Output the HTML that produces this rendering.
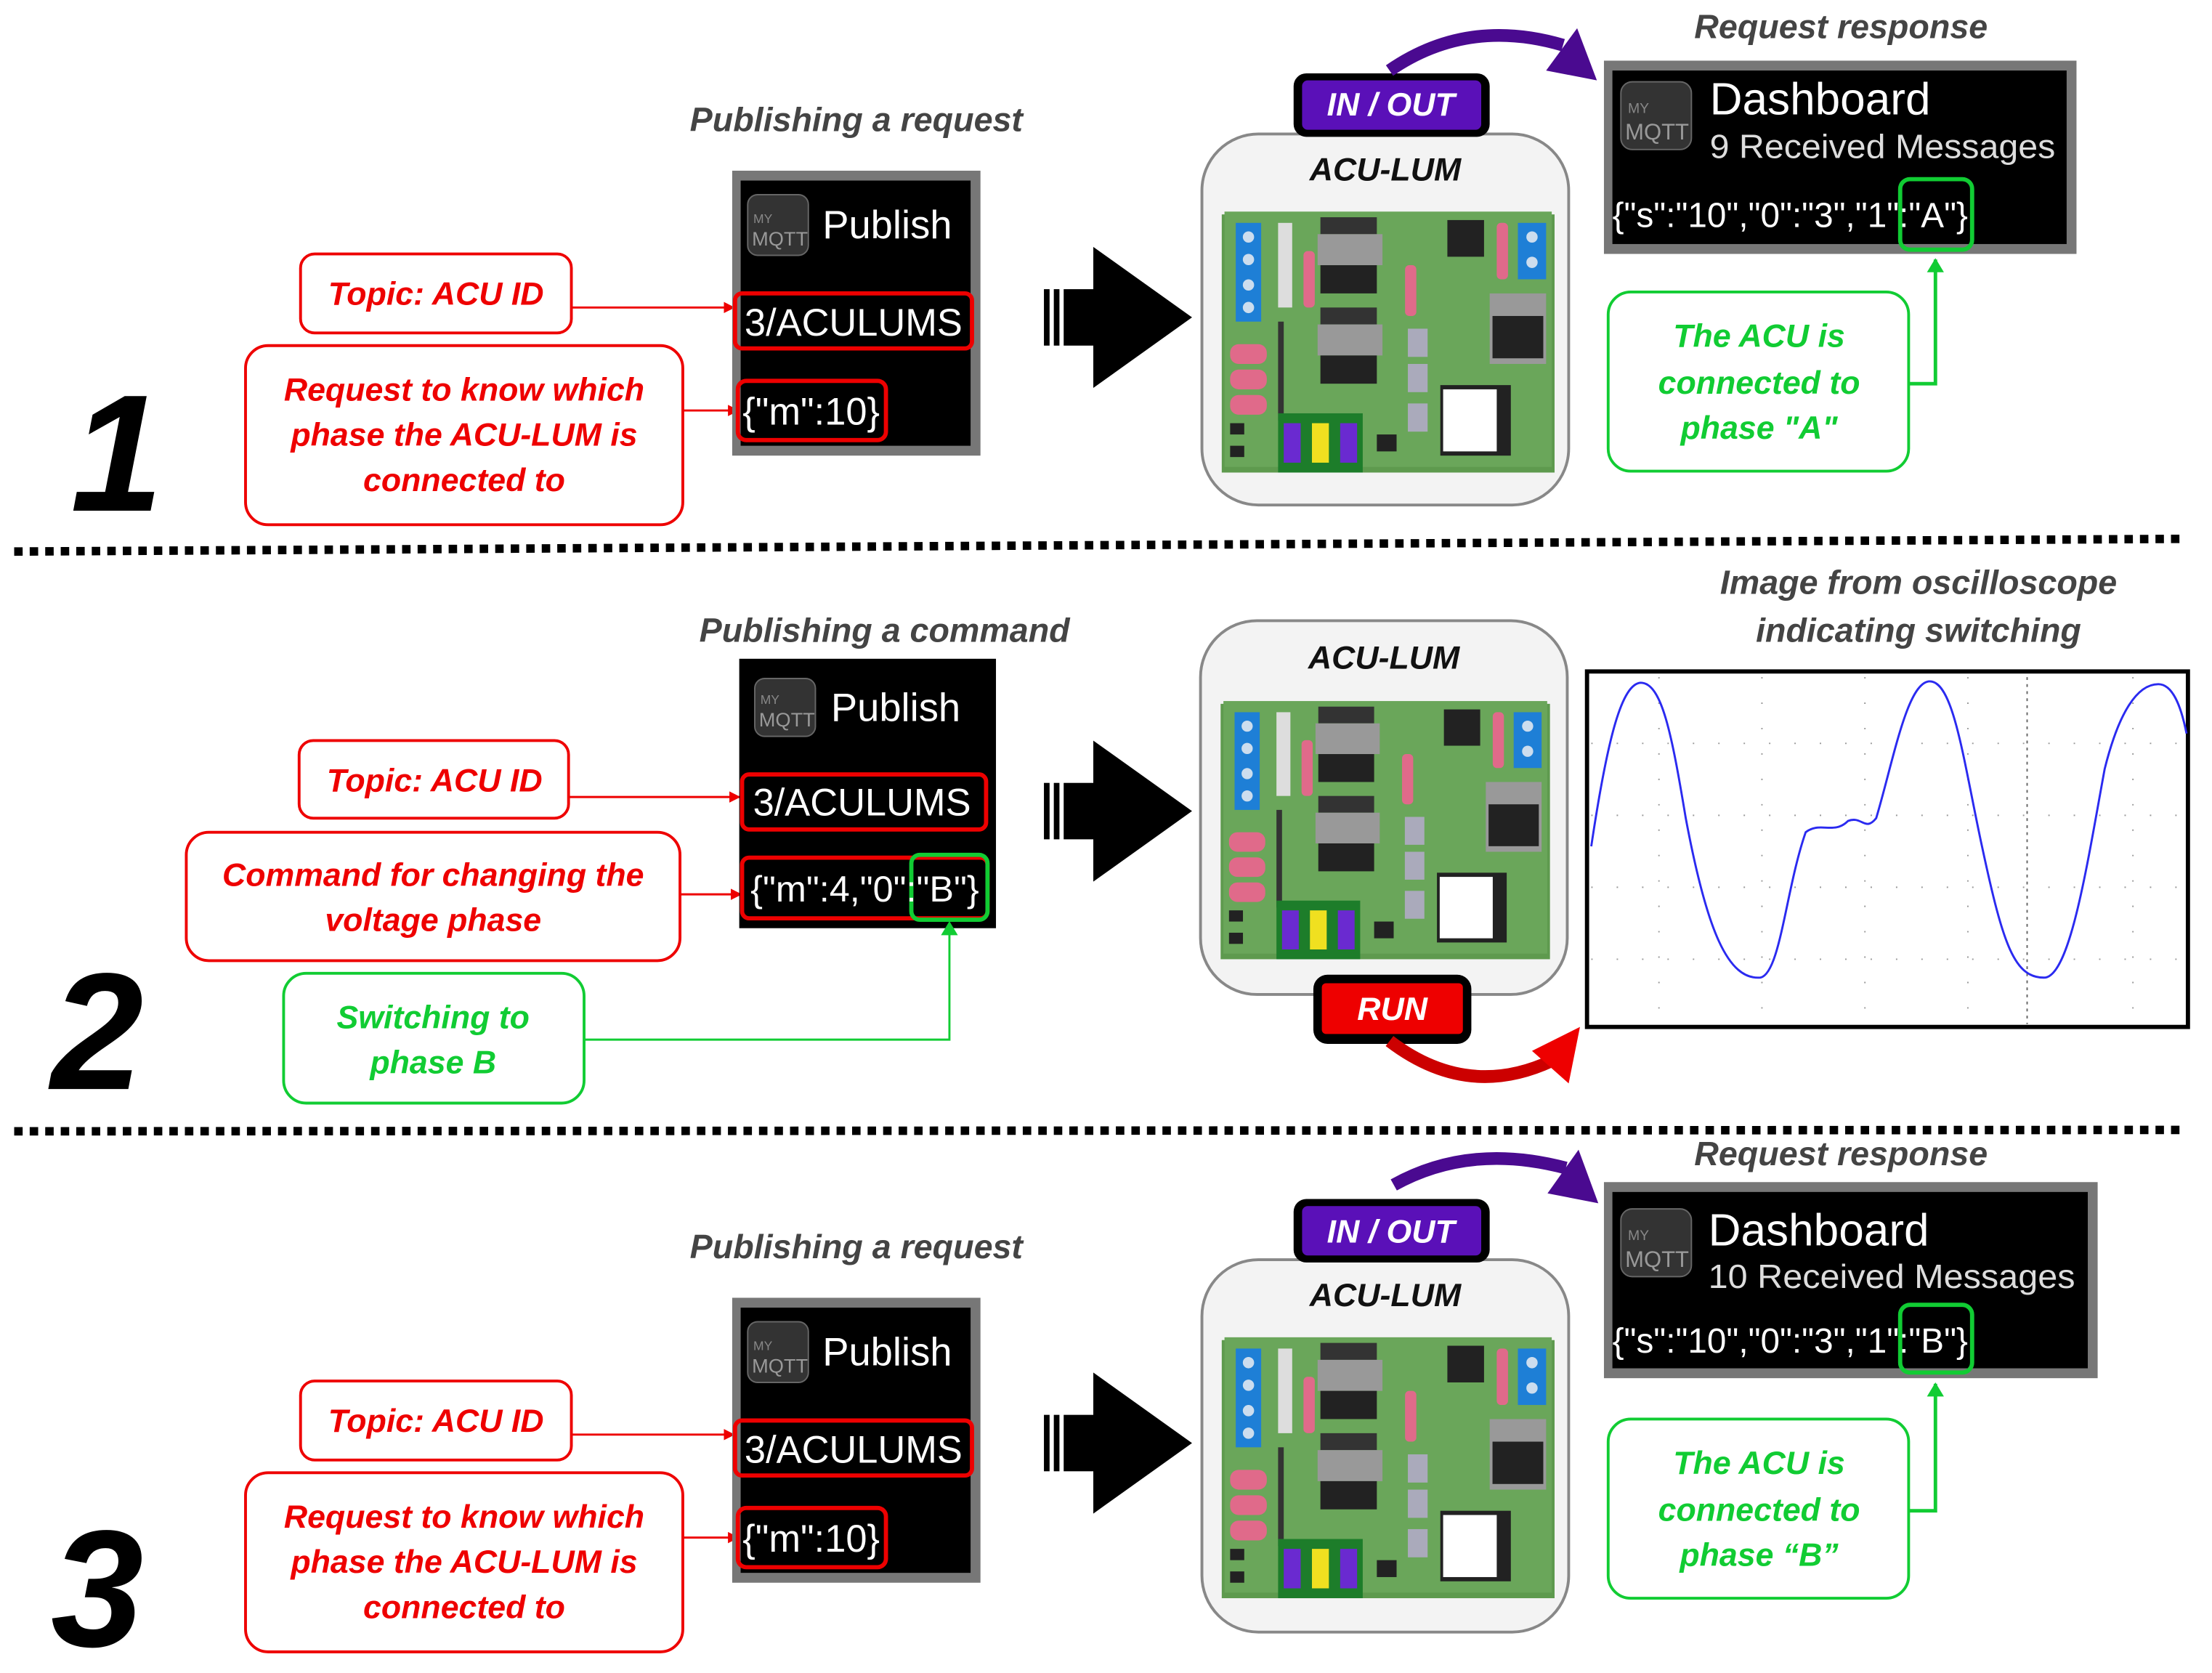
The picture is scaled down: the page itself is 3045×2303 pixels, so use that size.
<!DOCTYPE html>
<html><head><meta charset="utf-8"><style>
html,body{margin:0;padding:0;background:#fff;}
svg{display:block;}
text{font-family:"Liberation Sans",sans-serif;}
.lbl{font-weight:bold;font-style:italic;font-size:23px;text-anchor:middle;}
.red{fill:#ee0000;}
.grn{fill:#11cc33;}
.cap{font-weight:bold;font-style:italic;font-size:24px;fill:#444;text-anchor:middle;}
.wt{fill:#fff;}
.num{font-weight:bold;font-style:italic;font-size:118px;fill:#000;}
</style></head><body>
<svg width="3045" height="2303" viewBox="0 0 1568 1186" xmlns="http://www.w3.org/2000/svg">
<defs>
<marker id="ar" markerWidth="8" markerHeight="8" refX="7" refY="4" orient="auto" markerUnits="userSpaceOnUse"><path d="M0,0 L8,4 L0,8z" fill="#ee0000"/></marker>
<marker id="ag" markerWidth="10" markerHeight="12" refX="9" refY="6" orient="auto" markerUnits="userSpaceOnUse"><path d="M0,0 L10,6 L0,12z" fill="#11cc33"/></marker>
<symbol id="pcb" viewBox="0 0 236 187">
<rect x="0" y="4" width="236" height="183" fill="#5e9a4e"/>
<rect x="2" y="2" width="232" height="181" fill="#6aa65a"/>
<rect x="10" y="10" width="18" height="70" fill="#1e7fd6"/>
<circle cx="19" cy="20" r="4" fill="#cde"/><circle cx="19" cy="36" r="4" fill="#cde"/><circle cx="19" cy="54" r="4" fill="#cde"/><circle cx="19" cy="70" r="4" fill="#cde"/>
<rect x="40" y="10" width="10" height="60" fill="#ddd"/>
<rect x="70" y="6" width="40" height="12" fill="#333"/>
<rect x="68" y="18" width="46" height="22" fill="#999"/>
<rect x="70" y="40" width="40" height="20" fill="#222"/>
<rect x="70" y="70" width="40" height="12" fill="#333"/>
<rect x="68" y="82" width="46" height="22" fill="#999"/>
<rect x="70" y="104" width="40" height="20" fill="#222"/>
<rect x="58" y="30" width="8" height="40" rx="3" fill="#e06a8a"/>
<rect x="130" y="40" width="8" height="36" rx="3" fill="#e06a8a"/>
<rect x="195" y="10" width="8" height="40" rx="3" fill="#e06a8a"/>
<rect x="210" y="10" width="20" height="40" fill="#1e7fd6"/>
<circle cx="220" cy="20" r="4" fill="#cde"/><circle cx="220" cy="38" r="4" fill="#cde"/>
<rect x="160" y="8" width="26" height="26" fill="#222"/>
<rect x="190" y="60" width="40" height="50" fill="#999"/>
<rect x="192" y="76" width="36" height="30" fill="#222"/>
<rect x="6" y="96" width="26" height="14" rx="6" fill="#e06a8a"/>
<rect x="6" y="114" width="26" height="14" rx="6" fill="#e06a8a"/>
<rect x="6" y="132" width="26" height="14" rx="6" fill="#e06a8a"/>
<rect x="40" y="80" width="4" height="70" fill="#333"/>
<rect x="132" y="85" width="14" height="20" fill="#aab"/>
<rect x="132" y="110" width="14" height="20" fill="#aab"/>
<rect x="132" y="138" width="14" height="20" fill="#aab"/>
<rect x="40" y="145" width="60" height="42" fill="#1d7d2a"/>
<rect x="44" y="152" width="12" height="28" fill="#6a2ad0"/>
<rect x="64" y="152" width="12" height="28" fill="#f0e020"/>
<rect x="84" y="152" width="12" height="28" fill="#6a2ad0"/>
<rect x="155" y="125" width="50" height="50" fill="#222"/>
<rect x="157" y="128" width="38" height="44" fill="#fff"/>
<rect x="6" y="152" width="10" height="8" fill="#222"/><rect x="6" y="168" width="10" height="8" fill="#222"/>
<rect x="110" y="160" width="14" height="12" fill="#222"/>
</symbol>
</defs>

<line x1="10" y1="391" x2="1545" y2="382" stroke="#000" stroke-width="6" stroke-dasharray="6 5"/>
<line x1="10" y1="802" x2="1545" y2="801" stroke="#000" stroke-width="6" stroke-dasharray="6 5"/>

<!-- ===== SECTION 1 ===== -->
<text x="50" y="362" class="num">1</text>
<text x="607" y="93" class="cap">Publishing a request</text>
<rect x="213" y="180" width="192" height="56" rx="10" fill="#fff" stroke="#ee0000" stroke-width="2"/>
<text x="309" y="216" class="lbl red">Topic: ACU ID</text>
<rect x="174" y="245" width="310" height="127" rx="16" fill="#fff" stroke="#ee0000" stroke-width="2"/>
<text x="329" y="284" class="lbl red">Request to know which</text>
<text x="329" y="316" class="lbl red">phase the ACU-LUM is</text>
<text x="329" y="348" class="lbl red">connected to</text>
<line x1="405" y1="218" x2="520" y2="218" stroke="#ee0000" stroke-width="1.5" marker-end="url(#ar)"/>
<line x1="484" y1="291" x2="523" y2="291" stroke="#ee0000" stroke-width="1.5" marker-end="url(#ar)"/>
<rect x="519" y="121" width="176" height="202" fill="#777"/>
<rect x="525" y="128" width="163" height="188" fill="#000"/>
<rect x="530" y="138" width="43" height="43" rx="7" fill="#333" stroke="#666"/>
<text x="534" y="158" font-size="9" fill="#888">MY</text><text x="533" y="174" font-size="14" fill="#999">MQTT</text>
<text x="583" y="169" font-size="28" class="wt">Publish</text>
<rect x="521" y="208" width="168" height="39" rx="5" fill="none" stroke="#ee0000" stroke-width="3"/>
<text x="605" y="238" font-size="27" class="wt" text-anchor="middle">3/ACULUMS</text>
<rect x="523" y="270" width="105" height="42" rx="6" fill="none" stroke="#ee0000" stroke-width="3"/>
<text x="575" y="301" font-size="27" class="wt" text-anchor="middle">{"m":10}</text>

<g id="bigarrow1">
<rect x="740" y="205" width="4" height="40" fill="#000"/><rect x="747" y="205" width="4" height="40" fill="#000"/><rect x="754" y="205" width="24" height="40" fill="#000"/>
<polygon points="775,175 845,225 775,275" fill="#000"/>
</g>

<rect x="852" y="95" width="260" height="263" rx="40" fill="#f3f3f3" stroke="#888" stroke-width="2"/>
<text x="982" y="128" class="lbl" font-size="24" fill="#111">ACU-LUM</text>
<use href="#pcb" x="866" y="148" width="236" height="187"/>
<rect x="917" y="52" width="139" height="45" rx="9" fill="#000"/>
<rect x="923" y="57" width="127" height="35" rx="4" fill="#5a10b8"/>
<text x="986" y="82" class="lbl wt" font-size="21">IN / OUT</text>
<path d="M985,50 Q1040,12 1108,32" fill="none" stroke="#4a0a90" stroke-width="9"/>
<polygon points="1132,57 1096,50 1118,20" fill="#4a0a90"/>

<text x="1305" y="27" class="cap">Request response</text>
<rect x="1137" y="43" width="335" height="137" fill="#777"/>
<rect x="1143" y="50" width="322" height="123" fill="#000"/>
<rect x="1149" y="58" width="50" height="48" rx="8" fill="#333" stroke="#666"/>
<text x="1154" y="80" font-size="10" fill="#888">MY</text><text x="1152" y="99" font-size="16" fill="#999">MQTT</text>
<text x="1212" y="81" font-size="32" class="wt">Dashboard</text>
<text x="1212" y="112" font-size="24" fill="#ddd" textLength="245" lengthAdjust="spacingAndGlyphs">9 Received Messages</text>
<text x="1143" y="161" font-size="25" class="wt" textLength="252" lengthAdjust="spacingAndGlyphs">{"s":"10","0":"3","1":"A"}</text>
<rect x="1347" y="127" width="51" height="50" rx="7" fill="none" stroke="#11cc33" stroke-width="3"/>
<rect x="1140" y="207" width="213" height="127" rx="16" fill="#fff" stroke="#11cc33" stroke-width="2"/>
<text x="1247" y="246" class="lbl grn">The ACU is</text>
<text x="1247" y="279" class="lbl grn">connected to</text>
<text x="1247" y="311" class="lbl grn">phase "A"</text>
<polyline points="1353,272 1372,272 1372,184" fill="none" stroke="#11cc33" stroke-width="2.5" marker-end="url(#ag)"/>

<!-- ===== SECTION 2 ===== -->
<text x="36" y="772" class="num">2</text>
<text x="627" y="455" class="cap">Publishing a command</text>
<rect x="212" y="525" width="191" height="55" rx="10" fill="#fff" stroke="#ee0000" stroke-width="2"/>
<text x="308" y="561" class="lbl red">Topic: ACU ID</text>
<rect x="132" y="590" width="350" height="91" rx="16" fill="#fff" stroke="#ee0000" stroke-width="2"/>
<text x="307" y="628" class="lbl red">Command for changing the</text>
<text x="307" y="660" class="lbl red">voltage phase</text>
<rect x="201" y="690" width="213" height="92" rx="16" fill="#fff" stroke="#11cc33" stroke-width="2"/>
<text x="307" y="729" class="lbl grn">Switching to</text>
<text x="307" y="761" class="lbl grn">phase B</text>
<line x1="403" y1="565" x2="524" y2="565" stroke="#ee0000" stroke-width="1.5" marker-end="url(#ar)"/>
<line x1="482" y1="634" x2="525" y2="634" stroke="#ee0000" stroke-width="1.5" marker-end="url(#ar)"/>
<rect x="524" y="467" width="182" height="191" fill="#000"/>
<rect x="535" y="481" width="43" height="41" rx="7" fill="#333" stroke="#666"/>
<text x="539" y="499" font-size="9" fill="#888">MY</text><text x="538" y="515" font-size="14" fill="#999">MQTT</text>
<text x="589" y="511" font-size="28" class="wt">Publish</text>
<rect x="526" y="549" width="173" height="39" rx="5" fill="none" stroke="#ee0000" stroke-width="3"/>
<text x="611" y="578" font-size="27" class="wt" text-anchor="middle">3/ACULUMS</text>
<rect x="526" y="608" width="174" height="43" rx="5" fill="none" stroke="#ee0000" stroke-width="3"/>
<rect x="646" y="606" width="54" height="46" rx="6" fill="none" stroke="#11cc33" stroke-width="3"/>
<text x="532" y="639" font-size="26" class="wt" textLength="162" lengthAdjust="spacingAndGlyphs">{"m":4,"0":"B"}</text>
<polyline points="414,737 673,737 673,654" fill="none" stroke="#11cc33" stroke-width="1.5" marker-end="url(#ag)"/>

<use href="#bigarrow1" y="350"/>
<rect x="851" y="440" width="260" height="265" rx="40" fill="#f3f3f3" stroke="#888" stroke-width="2"/>
<text x="981" y="474" class="lbl" font-size="24" fill="#111">ACU-LUM</text>
<use href="#pcb" x="864" y="495" width="236" height="185"/>
<rect x="931" y="691" width="112" height="49" rx="10" fill="#000"/>
<rect x="937" y="697" width="100" height="36" rx="3" fill="#ee0000"/>
<text x="987" y="723" class="lbl wt" font-size="21">RUN</text>
<path d="M985,738 Q1040,780 1100,752" fill="none" stroke="#cc0000" stroke-width="9"/>
<polygon points="1120,728 1112,768 1086,745" fill="#ee0000"/>

<text x="1360" y="421" class="cap">Image from oscilloscope</text>
<text x="1360" y="455" class="cap">indicating switching</text>
<rect x="1125" y="476" width="426" height="252" fill="#fff" stroke="#000" stroke-width="3"/>
<g stroke="#999" stroke-width="1" stroke-dasharray="1 17">
<line x1="1128" y1="527" x2="1550" y2="527"/><line x1="1128" y1="578" x2="1550" y2="578"/><line x1="1128" y1="629" x2="1550" y2="629"/><line x1="1128" y1="680" x2="1550" y2="680"/>
<line x1="1176" y1="480" x2="1176" y2="726"/><line x1="1249" y1="480" x2="1249" y2="726"/><line x1="1322" y1="480" x2="1322" y2="726"/><line x1="1395" y1="480" x2="1395" y2="726"/><line x1="1512" y1="480" x2="1512" y2="726"/>
</g>
<line x1="1437" y1="480" x2="1437" y2="726" stroke="#666" stroke-dasharray="2 3"/>
<path d="M1128,600 C1140,520 1150,485 1163,484 C1178,484 1185,520 1195,580 C1210,660 1225,695 1248,693 C1262,690 1266,630 1280,590 C1290,582 1300,592 1310,582 C1320,578 1322,590 1330,580 C1342,540 1352,483 1368,483 C1385,483 1392,540 1405,600 C1420,670 1428,694 1450,693 C1468,690 1480,610 1492,545 C1502,505 1515,485 1530,485 C1540,485 1546,500 1550,520" fill="none" stroke="#2a2af0" stroke-width="1.5"/>

<!-- ===== SECTION 3 ===== -->
<text x="36" y="1167" class="num">3</text>
<text x="607" y="892" class="cap">Publishing a request</text>
<rect x="213" y="979" width="192" height="56" rx="10" fill="#fff" stroke="#ee0000" stroke-width="2"/>
<text x="309" y="1015" class="lbl red">Topic: ACU ID</text>
<rect x="174" y="1044" width="310" height="127" rx="16" fill="#fff" stroke="#ee0000" stroke-width="2"/>
<text x="329" y="1083" class="lbl red">Request to know which</text>
<text x="329" y="1115" class="lbl red">phase the ACU-LUM is</text>
<text x="329" y="1147" class="lbl red">connected to</text>
<line x1="405" y1="1017" x2="520" y2="1017" stroke="#ee0000" stroke-width="1.5" marker-end="url(#ar)"/>
<line x1="484" y1="1090" x2="523" y2="1090" stroke="#ee0000" stroke-width="1.5" marker-end="url(#ar)"/>
<rect x="519" y="920" width="176" height="202" fill="#777"/>
<rect x="525" y="927" width="163" height="188" fill="#000"/>
<rect x="530" y="937" width="43" height="43" rx="7" fill="#333" stroke="#666"/>
<text x="534" y="957" font-size="9" fill="#888">MY</text><text x="533" y="973" font-size="14" fill="#999">MQTT</text>
<text x="583" y="968" font-size="28" class="wt">Publish</text>
<rect x="521" y="1007" width="168" height="39" rx="5" fill="none" stroke="#ee0000" stroke-width="3"/>
<text x="605" y="1037" font-size="27" class="wt" text-anchor="middle">3/ACULUMS</text>
<rect x="523" y="1069" width="105" height="42" rx="6" fill="none" stroke="#ee0000" stroke-width="3"/>
<text x="575" y="1100" font-size="27" class="wt" text-anchor="middle">{"m":10}</text>

<use href="#bigarrow1" y="798"/>
<rect x="852" y="893" width="260" height="264" rx="40" fill="#f3f3f3" stroke="#888" stroke-width="2"/>
<text x="982" y="926" class="lbl" font-size="24" fill="#111">ACU-LUM</text>
<use href="#pcb" x="866" y="946" width="236" height="187"/>
<rect x="917" y="850" width="139" height="45" rx="9" fill="#000"/>
<rect x="923" y="855" width="127" height="35" rx="4" fill="#5a10b8"/>
<text x="986" y="881" class="lbl wt" font-size="21">IN / OUT</text>
<path d="M988,840 Q1042,810 1110,828" fill="none" stroke="#4a0a90" stroke-width="9"/>
<polygon points="1133,853 1097,846 1119,815" fill="#4a0a90"/>

<text x="1305" y="826" class="cap">Request response</text>
<rect x="1137" y="838" width="350" height="139" fill="#777"/>
<rect x="1143" y="845" width="337" height="125" fill="#000"/>
<rect x="1149" y="857" width="50" height="48" rx="8" fill="#333" stroke="#666"/>
<text x="1154" y="879" font-size="10" fill="#888">MY</text><text x="1152" y="898" font-size="16" fill="#999">MQTT</text>
<text x="1211" y="883" font-size="32" class="wt">Dashboard</text>
<text x="1211" y="913" font-size="24" fill="#ddd" textLength="260" lengthAdjust="spacingAndGlyphs">10 Received Messages</text>
<text x="1143" y="959" font-size="25" class="wt" textLength="252" lengthAdjust="spacingAndGlyphs">{"s":"10","0":"3","1":"B"}</text>
<rect x="1347" y="925" width="51" height="48" rx="7" fill="none" stroke="#11cc33" stroke-width="3"/>
<rect x="1140" y="1006" width="213" height="127" rx="16" fill="#fff" stroke="#11cc33" stroke-width="2"/>
<text x="1247" y="1045" class="lbl grn">The ACU is</text>
<text x="1247" y="1078" class="lbl grn">connected to</text>
<text x="1247" y="1110" class="lbl grn">phase “B”</text>
<polyline points="1353,1071 1372,1071 1372,981" fill="none" stroke="#11cc33" stroke-width="2.5" marker-end="url(#ag)"/>
</svg>
</body></html>
